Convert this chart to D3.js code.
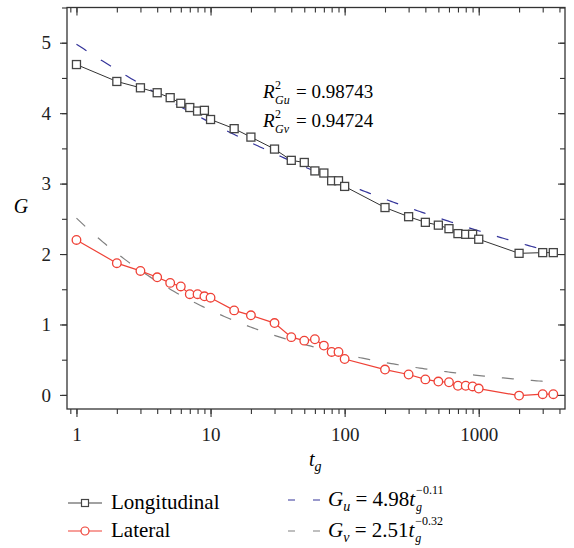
<!DOCTYPE html>
<html><head><meta charset="utf-8">
<script src="https://cdn.jsdelivr.net/npm/d3@7"></script>
<style>
html,body{margin:0;padding:0;background:#fff;}
</style></head>
<body><svg id="c" width="574" height="548" font-family="Liberation Serif"></svg>
<script>
// ---- data ----
const tg = [1,2,3,4,5,6,7,8,9,10,15,20,30,40,50,60,70,80,90,100,200,300,400,500,600,700,800,900,1000,2000,3000,3600];
const longitudinal = [4.69,4.45,4.36,4.29,4.22,4.14,4.08,4.03,4.04,3.91,3.78,3.66,3.49,3.33,3.30,3.18,3.15,3.04,3.04,2.96,2.66,2.53,2.45,2.41,2.36,2.29,2.28,2.28,2.21,2.01,2.02,2.02];
const lateral = [2.20,1.87,1.76,1.67,1.59,1.54,1.43,1.43,1.40,1.38,1.20,1.13,1.02,0.82,0.77,0.79,0.70,0.61,0.61,0.51,0.36,0.29,0.22,0.19,0.18,0.13,0.13,0.12,0.09,-0.01,0.01,0.01];
const fitU = {a:4.98, b:-0.11};
const fitV = {a:2.51, b:-0.32};
const xTickLabels = [1,10,100,1000];
const yTickLabels = [0,1,2,3,4,5];
const r2Labels = [{sub:"Gu", val:"0.98743"},{sub:"Gv", val:"0.94724"}];

// ---- layout ----
const FONT = "Liberation Serif";
const L=67, R=565, T=7.5, B=409;
const svg = d3.select("#c");
const x = d3.scaleLog().domain([0.85,4400]).range([L,R]);
const y = d3.scaleLinear().domain([-0.2,5.5]).range([B,T]);

const axisColor="#333";
const xMinor=[];
[0.1,1,10,100,1000].forEach(d=>{for(let k=1;k<10;k++){const v=d*k; if(v>=0.85&&v<=4400) xMinor.push(v);}});
const yMinor=d3.range(0,5.51,0.5);

function styleAxis(g){g.attr("font-family",FONT);g.select(".domain").remove();g.selectAll("line").attr("stroke",axisColor).attr("stroke-width",1.1);}

// bottom (outward)
svg.append("g").attr("transform",`translate(0,${B})`).call(d3.axisBottom(x).tickValues(xMinor).tickSize(5).tickFormat("")).call(styleAxis);
svg.append("g").attr("transform",`translate(0,${B})`).call(d3.axisBottom(x).tickValues(xTickLabels).tickSize(8).tickPadding(11).tickFormat(d3.format("d"))).call(styleAxis)
  .selectAll("text").attr("font-size",19).attr("fill","#222");
// top (inward)
svg.append("g").attr("transform",`translate(0,${T})`).call(d3.axisBottom(x).tickValues(xMinor).tickSize(5).tickFormat("")).call(styleAxis);
svg.append("g").attr("transform",`translate(0,${T})`).call(d3.axisBottom(x).tickValues(xTickLabels).tickSize(8).tickFormat("")).call(styleAxis);
// left (outward)
svg.append("g").attr("transform",`translate(${L},0)`).call(d3.axisLeft(y).tickValues(yMinor).tickSize(5).tickFormat("")).call(styleAxis);
svg.append("g").attr("transform",`translate(${L},0)`).call(d3.axisLeft(y).tickValues(yTickLabels).tickSize(7).tickPadding(9).tickFormat(d3.format("d"))).call(styleAxis)
  .selectAll("text").attr("font-size",19).attr("fill","#222");
// right (inward)
svg.append("g").attr("transform",`translate(${R},0)`).call(d3.axisLeft(y).tickValues(yMinor).tickSize(5).tickFormat("")).call(styleAxis);
svg.append("g").attr("transform",`translate(${R},0)`).call(d3.axisLeft(y).tickValues(yTickLabels).tickSize(7).tickFormat("")).call(styleAxis);

// frame
svg.append("rect").attr("x",L).attr("y",T).attr("width",R-L).attr("height",B-T).attr("fill","none").attr("stroke",axisColor).attr("stroke-width",1.3);

// fit curves
const fitT = d3.range(0,200+1).map(i=>Math.pow(10, i/200*Math.log10(3600)));
const fitLine = d3.line().x(d=>x(d[0])).y(d=>y(d[1]));
const blue="#34349a", gray="#808080", red="#ef4136", dark="#444";
svg.append("path").datum(fitT.map(t=>[t,fitU.a*Math.pow(t,fitU.b)])).attr("d",fitLine)
  .attr("fill","none").attr("stroke",blue).attr("stroke-width",1.2).attr("stroke-dasharray","12,17");
svg.append("path").datum(fitT.map(t=>[t,fitV.a*Math.pow(t,fitV.b)])).attr("d",fitLine)
  .attr("fill","none").attr("stroke",gray).attr("stroke-width",1.2).attr("stroke-dasharray","12,17");

// data lines
const dl = d3.line().x((d,i)=>x(tg[i])).y(d=>y(d));
svg.append("path").datum(longitudinal).attr("d",dl).attr("fill","none").attr("stroke","#333").attr("stroke-width",1);
svg.append("path").datum(lateral).attr("d",dl).attr("fill","none").attr("stroke",red).attr("stroke-width",1.2);
const sq=8;
svg.append("g").selectAll("rect").data(longitudinal).join("rect")
  .attr("x",(d,i)=>x(tg[i])-sq/2).attr("y",d=>y(d)-sq/2).attr("width",sq).attr("height",sq)
  .attr("fill","#fff").attr("stroke",dark).attr("stroke-width",1.3);
svg.append("g").selectAll("circle").data(lateral).join("circle")
  .attr("cx",(d,i)=>x(tg[i])).attr("cy",d=>y(d)).attr("r",4.3)
  .attr("fill","#fff").attr("stroke",red).attr("stroke-width",1.3);

// axis titles
svg.append("text").attr("x",21).attr("y",213).attr("text-anchor","middle").attr("font-size",20).attr("font-style","italic").text("G");
const xt = svg.append("text").attr("x",309).attr("y",466).attr("font-size",20);
xt.append("tspan").attr("font-style","italic").text("t");
xt.append("tspan").attr("font-style","italic").attr("font-size",14).attr("dy",5).text("g");

// R^2 annotations
r2Labels.forEach((r,i)=>{
  const bx=263, by=98+i*29;
  svg.append("text").attr("x",bx).attr("y",by).attr("font-size",19).attr("font-style","italic").text("R");
  svg.append("text").attr("x",bx+12).attr("y",by-9.5).attr("font-size",12).text("2");
  svg.append("text").attr("x",bx+12).attr("y",by+6).attr("font-size",12).attr("font-style","italic").text(r.sub);
  svg.append("text").attr("x",bx+33).attr("y",by).attr("font-size",19).text("= "+r.val);
});

// legend
const lg = svg.append("g");
const rows=[{y:503, color:dark, name:"Longitudinal", sym:"sq"},{y:531, color:red, name:"Lateral", sym:"ci"}];
rows.forEach(r=>{
  lg.append("line").attr("x1",68).attr("x2",102).attr("y1",r.y).attr("y2",r.y).attr("stroke",r.color).attr("stroke-width",1.2);
  if(r.sym==="sq") lg.append("rect").attr("x",85-3.5).attr("y",r.y-3.5).attr("width",7).attr("height",7).attr("fill","#fff").attr("stroke",r.color).attr("stroke-width",1.2);
  else lg.append("circle").attr("cx",85).attr("cy",r.y).attr("r",4).attr("fill","#fff").attr("stroke",r.color).attr("stroke-width",1.2);
  lg.append("text").attr("x",111).attr("y",r.y+6).attr("font-size",21).text(r.name);
});
const fits=[{y:500,color:blue,sub:"u",f:fitU},{y:531,color:gray,sub:"v",f:fitV}];
fits.forEach(f=>{
  lg.append("line").attr("x1",288).attr("x2",320).attr("y1",f.y).attr("y2",f.y).attr("stroke",f.color).attr("stroke-width",1.2).attr("stroke-dasharray","7,18");
  const t = lg.append("text").attr("x",328).attr("y",f.y+6).attr("font-size",21);
  t.append("tspan").attr("font-style","italic").text("G");
  t.append("tspan").attr("font-style","italic").attr("font-size",14).attr("dy",5).text(f.sub);
  t.append("tspan").attr("dy",-5).text(" = "+f.f.a.toFixed(2));
  t.append("tspan").attr("font-style","italic").text("t");
  const node=t.node(); const w=node.getComputedTextLength();
  lg.append("text").attr("x",329+w).attr("y",f.y+11).attr("font-size",12).attr("font-style","italic").text("g");
  lg.append("text").attr("x",329+w).attr("y",f.y-6.5).attr("font-size",12).text("\u2212"+Math.abs(f.f.b).toFixed(2));
});
svg.selectAll("text").attr("font-family",FONT);
</script></body></html>
